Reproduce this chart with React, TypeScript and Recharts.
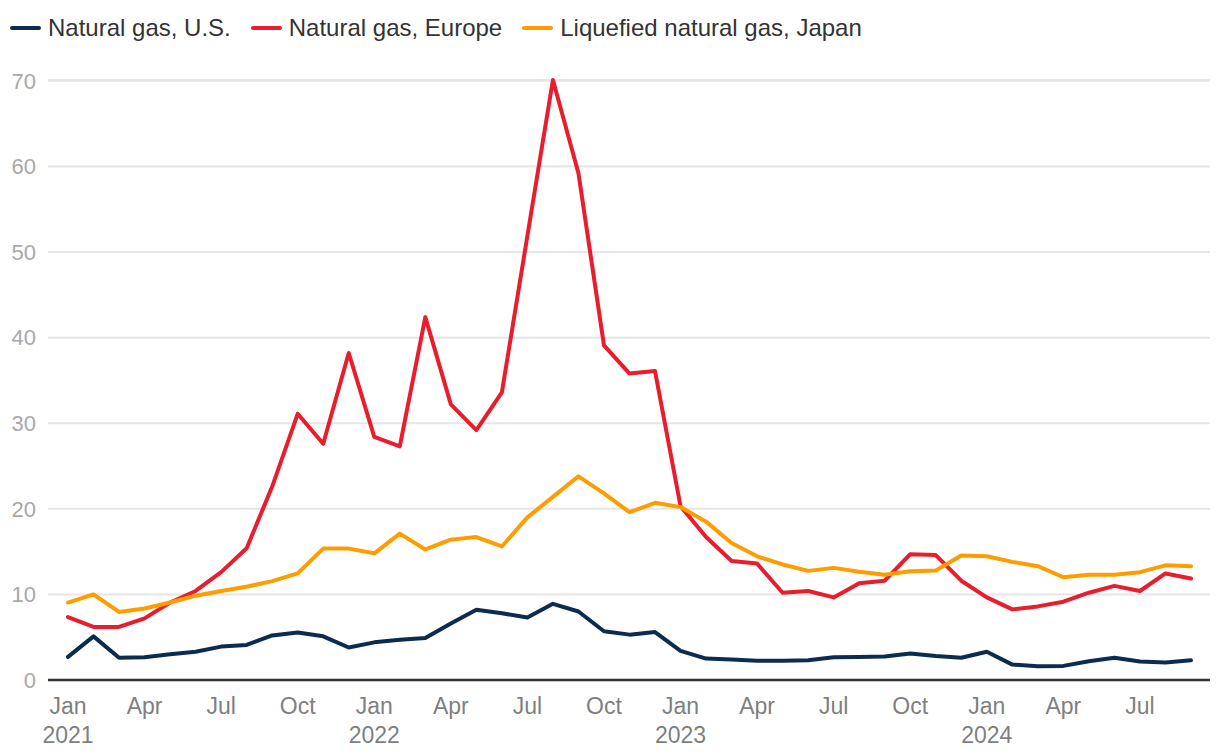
import * as React from "react"
import { LineChart, Line, XAxis, YAxis, CartesianGrid } from "recharts"

const FONT = '"Liberation Sans", Arial, Helvetica, sans-serif'

const MONTHS = [
  "Jan 2021", "Feb 2021", "Mar 2021", "Apr 2021", "May 2021", "Jun 2021",
  "Jul 2021", "Aug 2021", "Sep 2021", "Oct 2021", "Nov 2021", "Dec 2021",
  "Jan 2022", "Feb 2022", "Mar 2022", "Apr 2022", "May 2022", "Jun 2022",
  "Jul 2022", "Aug 2022", "Sep 2022", "Oct 2022", "Nov 2022", "Dec 2022",
  "Jan 2023", "Feb 2023", "Mar 2023", "Apr 2023", "May 2023", "Jun 2023",
  "Jul 2023", "Aug 2023", "Sep 2023", "Oct 2023", "Nov 2023", "Dec 2023",
  "Jan 2024", "Feb 2024", "Mar 2024", "Apr 2024", "May 2024", "Jun 2024",
  "Jul 2024", "Aug 2024", "Sep 2024",
]

// $/mmbtu
const GAS_US = [
  2.7, 5.1, 2.6, 2.65, 3.0, 3.3, 3.9, 4.1, 5.2, 5.55, 5.1, 3.8,
  4.4, 4.7, 4.9, 6.6, 8.2, 7.8, 7.3, 8.9, 8.0, 5.7, 5.3, 5.6,
  3.4, 2.5, 2.4, 2.25, 2.25, 2.3, 2.65, 2.7, 2.75, 3.1, 2.8, 2.6,
  3.3, 1.8, 1.6, 1.65, 2.2, 2.6, 2.15, 2.05, 2.3,
]

const GAS_EUROPE = [
  7.35, 6.2, 6.2, 7.2, 9.05, 10.4, 12.6, 15.4, 22.6, 31.1, 27.6, 38.2,
  28.4, 27.3, 42.4, 32.2, 29.2, 33.6, 51.9, 70.1, 59.2, 39.1, 35.8, 36.1,
  20.3, 16.7, 13.9, 13.6, 10.2, 10.4, 9.65, 11.3, 11.6, 14.7, 14.6, 11.6,
  9.65, 8.25, 8.6, 9.15, 10.2, 11.0, 10.4, 12.45, 11.85,
]

const LNG_JAPAN = [
  9.05, 10.0, 7.95, 8.35, 9.05, 9.85, 10.4, 10.9, 11.55, 12.45, 15.35, 15.35,
  14.8, 17.1, 15.25, 16.4, 16.7, 15.6, 19.0, 21.4, 23.8, 21.8, 19.6, 20.7,
  20.2, 18.5, 16.0, 14.45, 13.5, 12.75, 13.1, 12.65, 12.3, 12.7, 12.8, 14.55,
  14.45, 13.8, 13.3, 12.0, 12.3, 12.3, 12.6, 13.4, 13.3,
]

const Y_TICKS = [0, 10, 20, 30, 40, 50, 60, 70]

const SERIES = [
  { key: "us", name: "Natural gas, U.S.", color: "#0b2c4f" },
  { key: "europe", name: "Natural gas, Europe", color: "#e81d2e" },
  { key: "japan", name: "Liquefied natural gas, Japan", color: "#ff9d00" },
]

const data = MONTHS.map((m, i) => ({
  month: m,
  us: GAS_US[i],
  europe: GAS_EUROPE[i],
  japan: LNG_JAPAN[i],
}))

function MonthTick(props: any) {
  const { x, y, payload } = props
  const [mon, year] = String(payload.value).split(" ")
  return (
    <text x={x} textAnchor="middle" fill="#7f7f7f" fontSize={23} fontFamily={FONT}>
      <tspan x={x} y={y + 34}>{mon}</tspan>
      {mon === "Jan" && <tspan x={x} y={y + 63}>{year}</tspan>}
    </text>
  )
}

export default function App() {
  return (
    <div style={{ position: "absolute", left: 0, top: 0, width: 1220, height: 756, background: "#fff", fontFamily: FONT }}>
      <div style={{ position: "absolute", left: 10, top: 14, height: 28, display: "flex", alignItems: "center" }}>
        {SERIES.map((s) => (
          <div key={s.key} style={{ display: "flex", alignItems: "center", marginRight: 20 }}>
            <span style={{ display: "inline-block", width: 31, height: 4, borderRadius: 2, background: s.color, marginRight: 7 }} />
            <span style={{ fontSize: 24, lineHeight: "28px", color: "#333" }}>{s.name}</span>
          </div>
        ))}
      </div>
      <LineChart width={1220} height={756} data={data} margin={{ top: 80, right: 10, bottom: 0, left: 0 }}>
        <CartesianGrid vertical={false} stroke="#e6e6e6" strokeWidth={2} />
        <XAxis
          dataKey="month"
          scale="point"
          interval={2}
          padding={{ left: 20, right: 19 }}
          height={76}
          tickSize={0}
          tickMargin={0}
          tickLine={false}
          axisLine={{ stroke: "#333", strokeWidth: 2.5 }}
          tick={<MonthTick />}
        />
        <YAxis
          domain={[0, 70]}
          ticks={Y_TICKS}
          width={48}
          tickSize={0}
          tickMargin={12}
          tickLine={false}
          axisLine={false}
          tick={{ fill: "#a8a8a8", fontSize: 22, fontFamily: FONT }}
        />
        {SERIES.map((s) => (
          <Line
            key={s.key}
            type="linear"
            dataKey={s.key}
            name={s.name}
            stroke={s.color}
            strokeWidth={4}
            strokeLinecap="round"
            strokeLinejoin="round"
            dot={false}
            activeDot={false}
            isAnimationActive={false}
          />
        ))}
      </LineChart>
    </div>
  )
}
